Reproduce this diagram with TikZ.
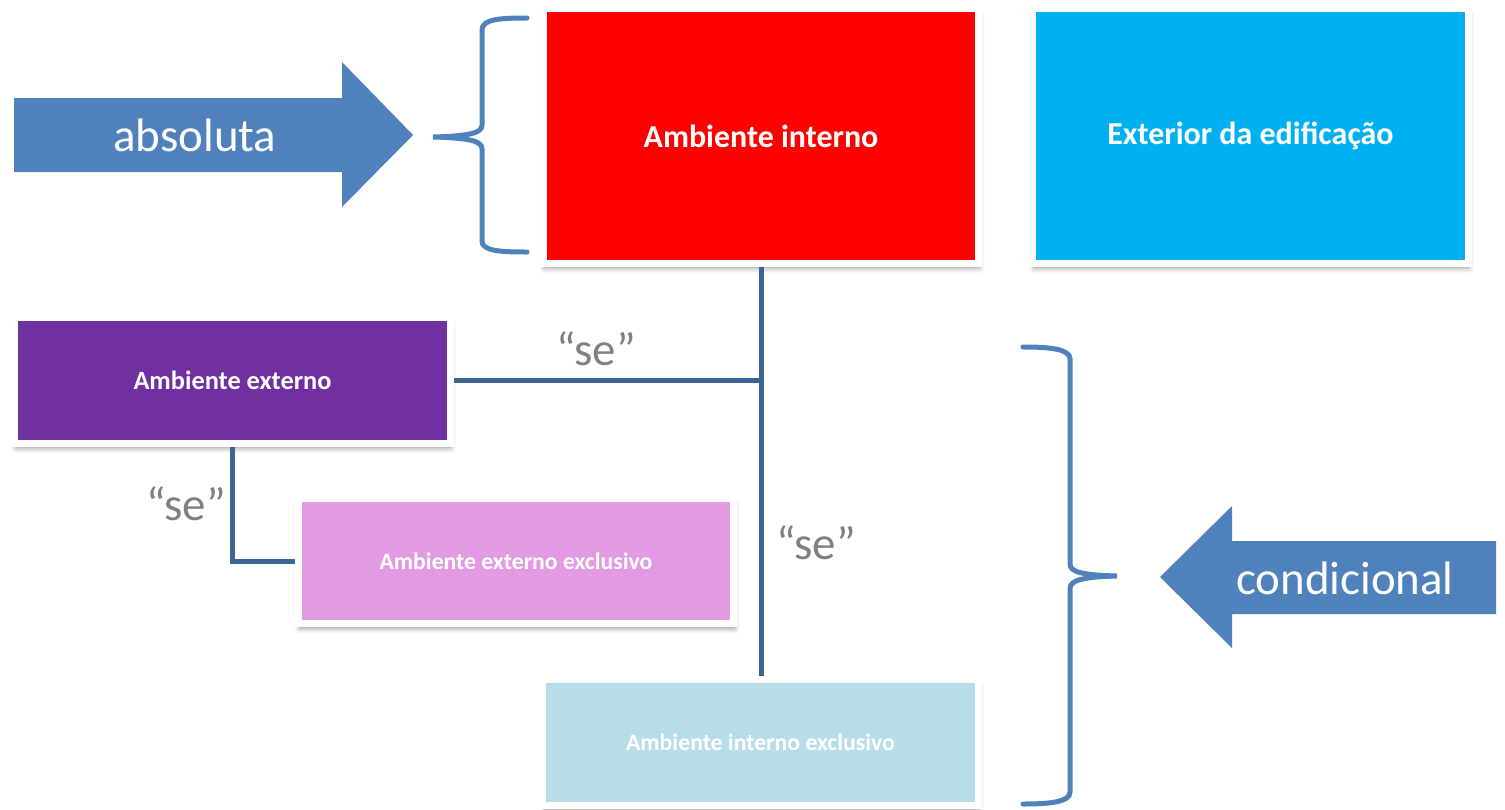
\documentclass[tikz,border=0pt]{standalone}
\usepackage{fontspec}
\setmainfont{Carlito}
\usetikzlibrary{shadows.blur}
\definecolor{arrowblue}{RGB}{79,129,189}
\definecolor{linkblue}{RGB}{62,100,150}
\definecolor{segray}{RGB}{128,128,128}
\definecolor{purplebox}{RGB}{112,48,160}
\definecolor{pinkbox}{RGB}{226,155,226}
\definecolor{skybox}{RGB}{0,176,240}
\definecolor{palebox}{RGB}{183,221,232}
\newcommand\boxwidth{8.72}
\newcommand\bigheight{5.1}
\newcommand\smallheight{2.52}
\tikzstyle{box} = [rectangle, minimum width=\boxwidth cm, draw=white, line width=0.14cm, text=white, blur shadow={shadow xshift=0.6pt, shadow yshift=-3pt, shadow blur radius=2.5pt, shadow opacity=35}]
\tikzstyle{bigbox} = [box, minimum height=\bigheight cm, font=\bfseries\fontsize{18.2}{22}\selectfont]
\tikzstyle{smallbox} = [box, minimum height=\smallheight cm]
\tikzstyle{link} = [draw=linkblue, line width=0.1cm]
\tikzstyle{brace} = [draw=arrowblue, line width=0.1cm, line cap=round]
\tikzstyle{se} = [text=segray, font=\fontsize{26.7}{30}\selectfont]
\tikzstyle{arrowtext} = [text=white, font=\fontsize{26.7}{30}\selectfont]

\begin{document}
\begin{tikzpicture}[x=0.02cm, y=-0.02cm]
	\useasboundingbox (0,0) rectangle (1505,809);

	% top row
	\node[bigbox, fill=red] (intbox) at (761,136) {Ambiente interno};
	\node[bigbox, fill=skybox] (extedif) at (1250.5,136) {Exterior da edificação};

	% conditional boxes
	\node[smallbox, fill=purplebox, font=\bfseries\fontsize{15}{18}\selectfont] (extbox) at (232.5,380.5) {Ambiente externo};
	\node[smallbox, fill=pinkbox, font=\bfseries\fontsize{13.5}{16}\selectfont] (extexcl) at (516,561) {Ambiente externo exclusivo};
	\node[smallbox, fill=palebox, font=\bfseries\fontsize{13.5}{16}\selectfont] (intexcl) at (760.5,742.5) {Ambiente interno exclusivo};

	% links
	\coordinate (junction) at (intbox.south |- extbox.east);
	\draw[link] (intbox.south) -- (intbox.south |- intexcl.north);
	\draw[link] (extbox.east) -- (junction);
	\draw[link] (extbox.south) |- (extexcl.west);

	\node[se] (se1) at (596,349) {“se”};
	\node[se] (se2) at (186,504) {“se”};
	\node[se] (se3) at (816,543) {“se”};

	% absoluta
	\fill[arrowblue] (14,98) -- (342,98) -- (342,62) -- (413,135) -- (342,207) -- (342,172) -- (14,172) -- cycle;
	\node[arrowtext] (absoluta) at (195,135) {absoluta};
	\draw[brace] (527,18) .. controls (500,18) and (482,19) .. (482,30) -- (482,125)
		.. controls (482,133) and (470,136) .. (433,137)
		.. controls (470,138) and (482,141) .. (482,149) -- (482,241)
		.. controls (482,251) and (500,252) .. (527,252);

	% condicional
	\fill[arrowblue] (1496,541) -- (1232,541) -- (1232,506) -- (1160,577) -- (1232,648) -- (1232,614) -- (1496,614) -- cycle;
	\node[arrowtext] (condicional) at (1345,578) {condicional};
	\draw[brace] (1023,347) .. controls (1050,347) and (1070,349) .. (1070,359) -- (1070,564)
		.. controls (1070,572) and (1082,575) .. (1117,576)
		.. controls (1082,577) and (1070,580) .. (1070,589) -- (1070,792)
		.. controls (1070,802) and (1050,804) .. (1023,804);
\end{tikzpicture}
\end{document}
